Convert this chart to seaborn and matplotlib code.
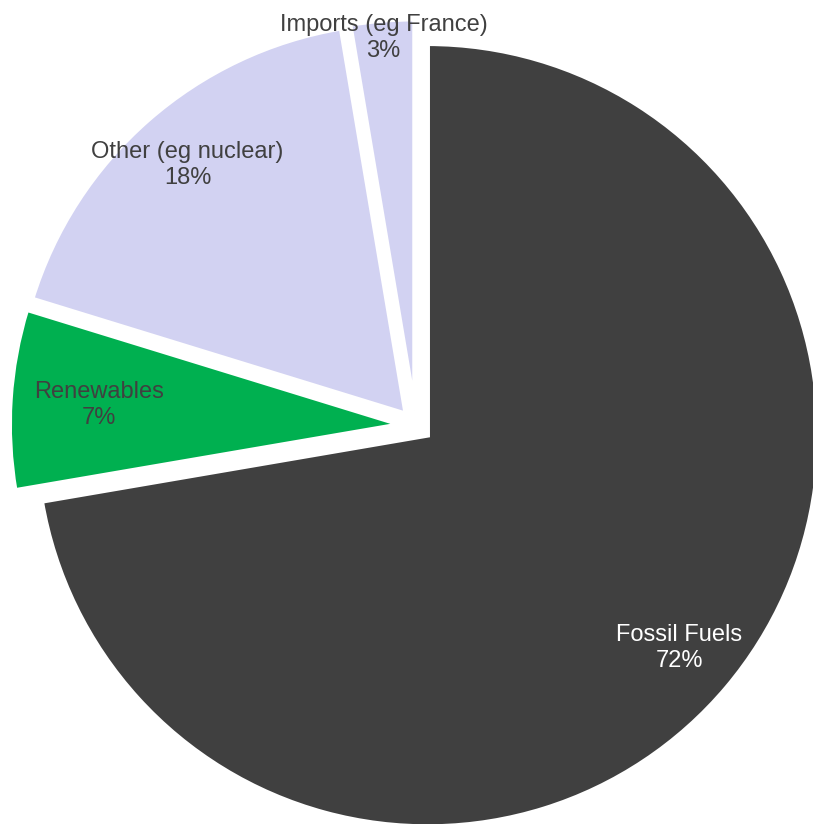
import numpy as np
import matplotlib
matplotlib.use("Agg")
import matplotlib.pyplot as plt
import seaborn as sns

# ---- data ----
categories = ["Fossil Fuels", "Renewables", "Other (eg nuclear)", "Imports (eg France)"]
shares = [72.3, 7.45, 17.6, 2.65]

# ---- style ----
slice_colors = ["#404040", "#00B050", "#D2D2F2", "#D2D2F2"]
text_colors = ["#FFFFFF", "#404040", "#404040", "#404040"]
label_dist = [0.88, 0.812, 0.885, 0.993]

sns.set_theme(style="white")
plt.rcParams["font.family"] = ["Liberation Sans", "DejaVu Sans"]

W, H = 813, 824
fig = plt.figure(figsize=(W / 100, H / 100), dpi=100)
ax = fig.add_axes([0, 0, 1, 1])

cx, cy, r = 416.0, 425.5, 391.6
explode_px = 15.0

palette = sns.color_palette(slice_colors)
wedges, _ = ax.pie(
    shares,
    colors=palette,
    startangle=90,
    counterclock=False,
    radius=1.0,
    explode=[explode_px / r] * len(shares),
    wedgeprops=dict(edgecolor="white", linewidth=3.6),
)

total = sum(shares)
for w, name, val, tc, d in zip(wedges, categories, shares, text_colors, label_dist):
    mid = np.deg2rad((w.theta1 + w.theta2) / 2)
    x, y = d * np.cos(mid), d * np.sin(mid)
    ax.text(x, y, f"{name}\n{val / total * 100:.0f}%", ha="center", va="center",
            color=tc, fontsize=17, linespacing=1.25)

ax.set_xlim(-cx / r, (W - cx) / r)
ax.set_ylim((cy - H) / r, cy / r)
ax.set_aspect("auto")
ax.axis("off")

fig.savefig("out.png", dpi=100, facecolor="white")
